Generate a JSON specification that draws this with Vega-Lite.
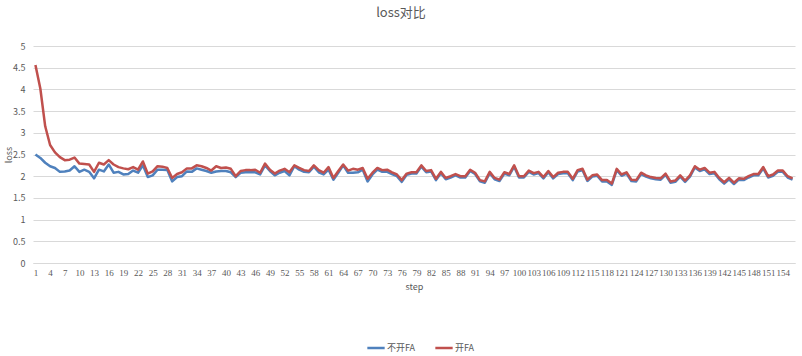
{
  "$schema": "https://vega.github.io/schema/vega-lite/v6.json",
  "autosize": "none",
  "width": 762,
  "height": 217,
  "padding": {"left": 33, "top": 46, "right": 7, "bottom": 93},
  "background": "white",
  "config": {
    "font": "Noto Sans CJK SC",
    "view": {"stroke": null}
  },
  "title": {
    "text": "loss对比",
    "fontSize": 13,
    "fontWeight": "normal",
    "color": "#595959",
    "anchor": "middle",
    "dx": -13,
    "offset": 22
  },
  "data": {
    "values": [
      {"step":1,"不开FA":2.50,"开FA":4.56},{"step":2,"不开FA":2.42,"开FA":4.02},{"step":3,"不开FA":2.31,"开FA":3.15},{"step":4,"不开FA":2.23,"开FA":2.72},{"step":5,"不开FA":2.19,"开FA":2.55},{"step":6,"不开FA":2.10,"开FA":2.44},{"step":7,"不开FA":2.11,"开FA":2.37},{"step":8,"不开FA":2.13,"开FA":2.38},{"step":9,"不开FA":2.23,"开FA":2.43},{"step":10,"不开FA":2.10,"开FA":2.29},
      {"step":11,"不开FA":2.15,"开FA":2.28},{"step":12,"不开FA":2.10,"开FA":2.27},{"step":13,"不开FA":1.95,"开FA":2.10},{"step":14,"不开FA":2.15,"开FA":2.31},{"step":15,"不开FA":2.11,"开FA":2.27},{"step":16,"不开FA":2.27,"开FA":2.37},{"step":17,"不开FA":2.08,"开FA":2.27},{"step":18,"不开FA":2.10,"开FA":2.21},{"step":19,"不开FA":2.04,"开FA":2.18},{"step":20,"不开FA":2.05,"开FA":2.16},
      {"step":21,"不开FA":2.13,"开FA":2.21},{"step":22,"不开FA":2.08,"开FA":2.15},{"step":23,"不开FA":2.25,"开FA":2.34},{"step":24,"不开FA":1.98,"开FA":2.06},{"step":25,"不开FA":2.02,"开FA":2.11},{"step":26,"不开FA":2.15,"开FA":2.23},{"step":27,"不开FA":2.15,"开FA":2.22},{"step":28,"不开FA":2.14,"开FA":2.19},{"step":29,"不开FA":1.88,"开FA":1.96},{"step":30,"不开FA":1.98,"开FA":2.05},
      {"step":31,"不开FA":2.00,"开FA":2.09},{"step":32,"不开FA":2.11,"开FA":2.18},{"step":33,"不开FA":2.10,"开FA":2.18},{"step":34,"不开FA":2.18,"开FA":2.25},{"step":35,"不开FA":2.15,"开FA":2.23},{"step":36,"不开FA":2.12,"开FA":2.19},{"step":37,"不开FA":2.08,"开FA":2.13},{"step":38,"不开FA":2.11,"开FA":2.23},{"step":39,"不开FA":2.12,"开FA":2.19},{"step":40,"不开FA":2.12,"开FA":2.20},
      {"step":41,"不开FA":2.09,"开FA":2.17},{"step":42,"不开FA":1.98,"开FA":2.00},{"step":43,"不开FA":2.08,"开FA":2.12},{"step":44,"不开FA":2.09,"开FA":2.14},{"step":45,"不开FA":2.09,"开FA":2.14},{"step":46,"不开FA":2.09,"开FA":2.15},{"step":47,"不开FA":2.04,"开FA":2.08},{"step":48,"不开FA":2.25,"开FA":2.29},{"step":49,"不开FA":2.12,"开FA":2.15},{"step":50,"不开FA":2.02,"开FA":2.06},
      {"step":51,"不开FA":2.08,"开FA":2.13},{"step":52,"不开FA":2.12,"开FA":2.17},{"step":53,"不开FA":2.02,"开FA":2.09},{"step":54,"不开FA":2.23,"开FA":2.25},{"step":55,"不开FA":2.15,"开FA":2.19},{"step":56,"不开FA":2.10,"开FA":2.14},{"step":57,"不开FA":2.09,"开FA":2.12},{"step":58,"不开FA":2.22,"开FA":2.25},{"step":59,"不开FA":2.09,"开FA":2.14},{"step":60,"不开FA":2.04,"开FA":2.08},
      {"step":61,"不开FA":2.15,"开FA":2.21},{"step":62,"不开FA":1.92,"开FA":1.96},{"step":63,"不开FA":2.08,"开FA":2.12},{"step":64,"不开FA":2.25,"开FA":2.27},{"step":65,"不开FA":2.08,"开FA":2.13},{"step":66,"不开FA":2.08,"开FA":2.17},{"step":67,"不开FA":2.09,"开FA":2.15},{"step":68,"不开FA":2.15,"开FA":2.19},{"step":69,"不开FA":1.88,"开FA":1.94},{"step":70,"不开FA":2.04,"开FA":2.08},
      {"step":71,"不开FA":2.15,"开FA":2.19},{"step":72,"不开FA":2.10,"开FA":2.14},{"step":73,"不开FA":2.10,"开FA":2.15},{"step":74,"不开FA":2.05,"开FA":2.09},{"step":75,"不开FA":2.00,"开FA":2.04},{"step":76,"不开FA":1.87,"开FA":1.91},{"step":77,"不开FA":2.03,"开FA":2.06},{"step":78,"不开FA":2.06,"开FA":2.09},{"step":79,"不开FA":2.06,"开FA":2.09},{"step":80,"不开FA":2.22,"开FA":2.25},
      {"step":81,"不开FA":2.09,"开FA":2.12},{"step":82,"不开FA":2.11,"开FA":2.14},{"step":83,"不开FA":1.91,"开FA":1.94},{"step":84,"不开FA":2.07,"开FA":2.10},{"step":85,"不开FA":1.93,"开FA":1.96},{"step":86,"不开FA":1.97,"开FA":2.00},{"step":87,"不开FA":2.02,"开FA":2.05},{"step":88,"不开FA":1.97,"开FA":2.00},{"step":89,"不开FA":1.97,"开FA":2.00},{"step":90,"不开FA":2.12,"开FA":2.15},
      {"step":91,"不开FA":2.05,"开FA":2.08},{"step":92,"不开FA":1.88,"开FA":1.91},{"step":93,"不开FA":1.85,"开FA":1.88},{"step":94,"不开FA":2.07,"开FA":2.10},{"step":95,"不开FA":1.93,"开FA":1.96},{"step":96,"不开FA":1.89,"开FA":1.92},{"step":97,"不开FA":2.06,"开FA":2.09},{"step":98,"不开FA":2.02,"开FA":2.05},{"step":99,"不开FA":2.22,"开FA":2.25},{"step":100,"不开FA":1.97,"开FA":2.00},
      {"step":101,"不开FA":1.97,"开FA":2.00},{"step":102,"不开FA":2.10,"开FA":2.13},{"step":103,"不开FA":2.04,"开FA":2.07},{"step":104,"不开FA":2.07,"开FA":2.10},{"step":105,"不开FA":1.95,"开FA":1.98},{"step":106,"不开FA":2.09,"开FA":2.12},{"step":107,"不开FA":1.95,"开FA":1.98},{"step":108,"不开FA":2.05,"开FA":2.08},{"step":109,"不开FA":2.07,"开FA":2.10},{"step":110,"不开FA":2.07,"开FA":2.10},
      {"step":111,"不开FA":1.91,"开FA":1.94},{"step":112,"不开FA":2.11,"开FA":2.14},{"step":113,"不开FA":2.14,"开FA":2.17},{"step":114,"不开FA":1.89,"开FA":1.92},{"step":115,"不开FA":1.99,"开FA":2.02},{"step":116,"不开FA":2.01,"开FA":2.04},{"step":117,"不开FA":1.88,"开FA":1.91},{"step":118,"不开FA":1.88,"开FA":1.91},{"step":119,"不开FA":1.80,"开FA":1.83},{"step":120,"不开FA":2.14,"开FA":2.17},
      {"step":121,"不开FA":2.01,"开FA":2.04},{"step":122,"不开FA":2.06,"开FA":2.09},{"step":123,"不开FA":1.89,"开FA":1.92},{"step":124,"不开FA":1.88,"开FA":1.91},{"step":125,"不开FA":2.05,"开FA":2.08},{"step":126,"不开FA":1.99,"开FA":2.02},{"step":127,"不开FA":1.95,"开FA":1.98},{"step":128,"不开FA":1.93,"开FA":1.96},{"step":129,"不开FA":1.92,"开FA":1.95},{"step":130,"不开FA":2.03,"开FA":2.06},
      {"step":131,"不开FA":1.85,"开FA":1.88},{"step":132,"不开FA":1.87,"开FA":1.90},{"step":133,"不开FA":1.99,"开FA":2.02},{"step":134,"不开FA":1.87,"开FA":1.90},{"step":135,"不开FA":1.99,"开FA":2.02},{"step":136,"不开FA":2.20,"开FA":2.23},{"step":137,"不开FA":2.12,"开FA":2.15},{"step":138,"不开FA":2.16,"开FA":2.19},{"step":139,"不开FA":2.05,"开FA":2.08},{"step":140,"不开FA":2.07,"开FA":2.10},
      {"step":141,"不开FA":1.93,"开FA":1.96},{"step":142,"不开FA":1.83,"开FA":1.86},{"step":143,"不开FA":1.93,"开FA":1.96},{"step":144,"不开FA":1.82,"开FA":1.85},{"step":145,"不开FA":1.92,"开FA":1.95},{"step":146,"不开FA":1.91,"开FA":1.94},{"step":147,"不开FA":1.97,"开FA":2.00},{"step":148,"不开FA":2.02,"开FA":2.05},{"step":149,"不开FA":2.02,"开FA":2.05},{"step":150,"不开FA":2.18,"开FA":2.21},
      {"step":151,"不开FA":1.97,"开FA":2.00},{"step":152,"不开FA":2.01,"开FA":2.04},{"step":153,"不开FA":2.10,"开FA":2.13},{"step":154,"不开FA":2.10,"开FA":2.13},{"step":155,"不开FA":1.97,"开FA":2.00},{"step":156,"不开FA":1.92,"开FA":1.95}
    ]
  },
  "transform": [{"fold": ["不开FA", "开FA"], "as": ["series", "loss"]}],
  "mark": {"type": "line", "strokeWidth": 2.5, "strokeJoin": "round"},
  "encoding": {
    "x": {
      "field": "step",
      "type": "quantitative",
      "scale": {"domain": [0.5, 156.5], "nice": false, "zero": false},
      "axis": {
        "title": "step",
        "values": [1,4,7,10,13,16,19,22,25,28,31,34,37,40,43,46,49,52,55,58,61,64,67,70,73,76,79,82,85,88,91,94,97,100,103,106,109,112,115,118,121,124,127,130,133,136,139,142,145,148,151,154],
        "grid": false,
        "ticks": false,
        "domainColor": "#d9d9d9",
        "labelFont": "Liberation Sans Narrow",
        "labelFontSize": 9,
        "labelColor": "#595959",
        "labelPadding": 5,
        "labelFlush": false,
        "labelOverlap": false,
        "titleFontSize": 9,
        "titleFontWeight": "normal",
        "titleColor": "#595959",
        "titlePadding": 5
      }
    },
    "y": {
      "field": "loss",
      "type": "quantitative",
      "scale": {"domain": [0, 5], "nice": false},
      "axis": {
        "title": "loss",
        "values": [0,0.5,1,1.5,2,2.5,3,3.5,4,4.5,5],
        "format": "~g",
        "grid": true,
        "gridColor": "#d9d9d9",
        "domain": false,
        "ticks": false,
        "labelFontSize": 9,
        "labelColor": "#595959",
        "labelPadding": 8,
        "titleFontSize": 9,
        "titleFontWeight": "normal",
        "titleColor": "#595959",
        "titleX": -20
      }
    },
    "color": {
      "field": "series",
      "type": "nominal",
      "scale": {"domain": ["不开FA", "开FA"], "range": ["#4F81BD", "#C0504D"]},
      "legend": {
        "title": null,
        "orient": "none",
        "direction": "horizontal",
        "legendX": 333,
        "legendY": 292,
        "symbolType": "stroke",
        "symbolSize": 300,
        "symbolStrokeWidth": 2.5,
        "labelFontSize": 9,
        "labelColor": "#595959",
        "labelOffset": 1,
        "columnPadding": 14
      }
    }
  }
}
